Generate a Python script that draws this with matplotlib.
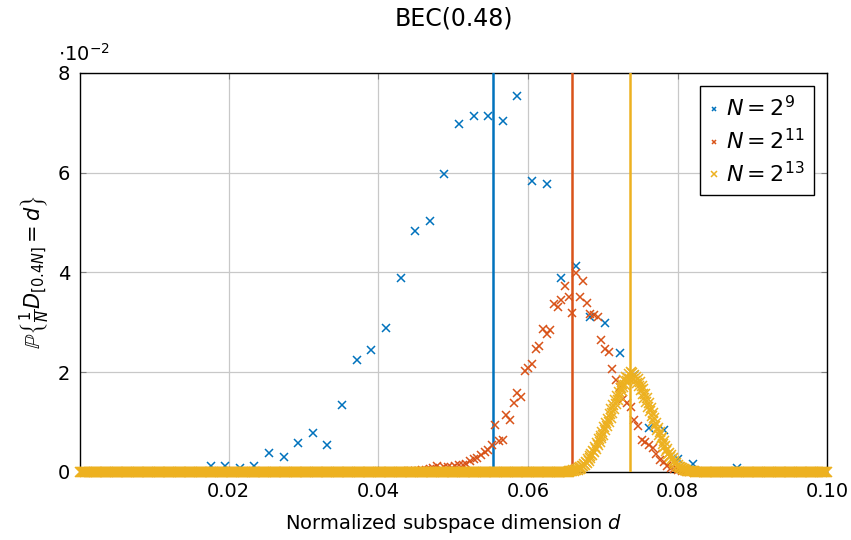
import numpy as np
import matplotlib.pyplot as plt

# probabilities are in units of 1e-2; each list starts at index k0, with d = k / N
n_values = [2**9, 2**11, 2**13]
labels = [r'$N = 2^{9}$', r'$N = 2^{11}$', r'$N = 2^{13}$']
colors = ['#0072BD', '#D95319', '#EDB120']

k0_n9 = 9
p_n9 = [0.11, 0.11, 0.07, 0.11, 0.39, 0.29, 0.59, 0.79, 0.54, 1.34,
        2.24, 2.44, 2.89, 3.89, 4.83, 5.03, 5.98, 6.98, 7.13, 7.13,
        7.03, 7.53, 5.83, 5.78, 3.89, 4.13, 3.11, 2.98, 2.39, 1.95,
        0.89, 0.84, 0.26, 0.16, 0.00, 0.00, 0.07]

k0_n11 = 90
p_n11 = [0.01, 0.01, 0.02, 0.02, 0.03, 0.04, 0.05, 0.07, 0.11, 0.06,
         0.10, 0.09, 0.08, 0.12, 0.13, 0.14, 0.15, 0.21, 0.25, 0.28,
         0.35, 0.41, 0.44, 0.55, 0.94, 0.62, 0.64, 1.14, 1.04, 1.38,
         1.58, 1.51, 2.02, 2.09, 2.17, 2.47, 2.52, 2.86, 2.77, 2.84,
         3.37, 3.31, 3.44, 3.72, 3.50, 3.19, 3.98, 3.50, 3.82, 3.39,
         3.17, 3.14, 3.10, 2.65, 2.47, 2.41, 2.07, 1.84, 1.71, 1.47,
         1.38, 1.31, 1.05, 0.92, 0.65, 0.60, 0.55, 0.48, 0.37, 0.24,
         0.20, 0.11, 0.08, 0.05, 0.03, 0.02, 0.01]

k0_n13 = 536
p_n13 = [0.00, 0.01, 0.01, 0.02, 0.01, 0.03, 0.02, 0.04, 0.03, 0.05,
         0.04, 0.07, 0.06, 0.09, 0.08, 0.12, 0.11, 0.15, 0.14, 0.19,
         0.18, 0.25, 0.22, 0.31, 0.28, 0.37, 0.34, 0.43, 0.40, 0.50,
         0.46, 0.58, 0.54, 0.66, 0.60, 0.72, 0.69, 0.80, 0.74, 0.90,
         0.84, 0.98, 0.92, 1.07, 1.01, 1.16, 1.08, 1.26, 1.19, 1.35,
         1.27, 1.44, 1.36, 1.52, 1.45, 1.60, 1.53, 1.68, 1.62, 1.77,
         1.70, 1.84, 1.75, 1.91, 1.82, 1.88, 1.97, 1.86, 2.01, 1.90,
         1.98, 1.87, 1.95, 1.83, 1.91, 1.78, 1.86, 1.72, 1.80, 1.65,
         1.73, 1.57, 1.66, 1.49, 1.57, 1.40, 1.48, 1.31, 1.39, 1.22,
         1.29, 1.12, 1.19, 1.02, 1.09, 0.93, 0.99, 0.84, 0.89, 0.75,
         0.80, 0.66, 0.70, 0.57, 0.62, 0.50, 0.53, 0.43, 0.46, 0.36,
         0.39, 0.30, 0.33, 0.25, 0.27, 0.20, 0.22, 0.16, 0.17, 0.12,
         0.13, 0.09, 0.10, 0.07, 0.07, 0.05, 0.05, 0.04, 0.03, 0.03,
         0.02, 0.02, 0.02, 0.01, 0.01, 0.01, 0.01, 0.01, 0.00, 0.00]

# vertical reference lines (d)
thresholds = [0.0553, 0.0659, 0.0737]

d_max = 0.1
x_ticks = [0.02, 0.04, 0.06, 0.08, 0.10]
y_ticks = [0, 2, 4, 6, 8]


def full_series(n, k0, vals):
    # every other index up to d_max has probability zero
    k = np.arange(1, int(d_max * n) + 1)
    p = np.zeros(len(k))
    p[k0 - 1:k0 - 1 + len(vals)] = vals
    return k / n, p


plt.rcParams['font.family'] = 'DejaVu Sans'
plt.rcParams['mathtext.fontset'] = 'dejavusans'

fig = plt.figure(figsize=(8.51, 5.40), dpi=100)
ax = fig.add_axes([0.094, 0.126, 0.878, 0.739])

series = [(k0_n9, p_n9), (k0_n11, p_n11), (k0_n13, p_n13)]
sizes = [6.0, 6.0, 6.8]
for n, (k0, vals), color, label, t, ms in zip(n_values, series, colors, labels,
                                               thresholds, sizes):
    d, p = full_series(n, k0, vals)
    ax.plot(d, p, linestyle='none', marker='x', markersize=ms, markeredgewidth=1.1,
            color=color, label=label, clip_on=False, zorder=3)
    ax.axvline(t, color=color, linewidth=1.8, zorder=3)

ax.set_xlim(1 / 8192, d_max)
ax.set_ylim(0, 8)
ax.set_xticks(x_ticks)
ax.set_xticklabels([f'{v:.2f}' for v in x_ticks])
ax.set_yticks(y_ticks)
ax.tick_params(direction='in', length=4, color='#808080', labelsize=14, pad=7,
               top=True, right=True)
ax.grid(True, color='#c8c8c8', linewidth=0.9)
ax.set_axisbelow(True)
for s in ax.spines.values():
    s.set_linewidth(1.0)

ax.set_title('BEC(0.48)', fontsize=17, pad=34)
ax.set_xlabel(r'Normalized subspace dimension $d$', fontsize=14, labelpad=8)
ax.set_ylabel(r'$\mathbb{P}\left\{\frac{1}{N}D_{[0.4N]}=d\right\}$', fontsize=15, labelpad=4)
ax.text(-0.03, 1.02, r'$\cdot10^{-2}$', transform=ax.transAxes, fontsize=14,
        ha='left', va='bottom')

leg = ax.legend(loc='upper right', fontsize=16, handlelength=0.5, handletextpad=0.3,
                markerscale=0.6, fancybox=False, edgecolor='black', framealpha=1,
                borderaxespad=0.6, labelspacing=0.35, borderpad=0.4)
leg.get_frame().set_linewidth(1.0)

fig.savefig('out.png', dpi=100)
